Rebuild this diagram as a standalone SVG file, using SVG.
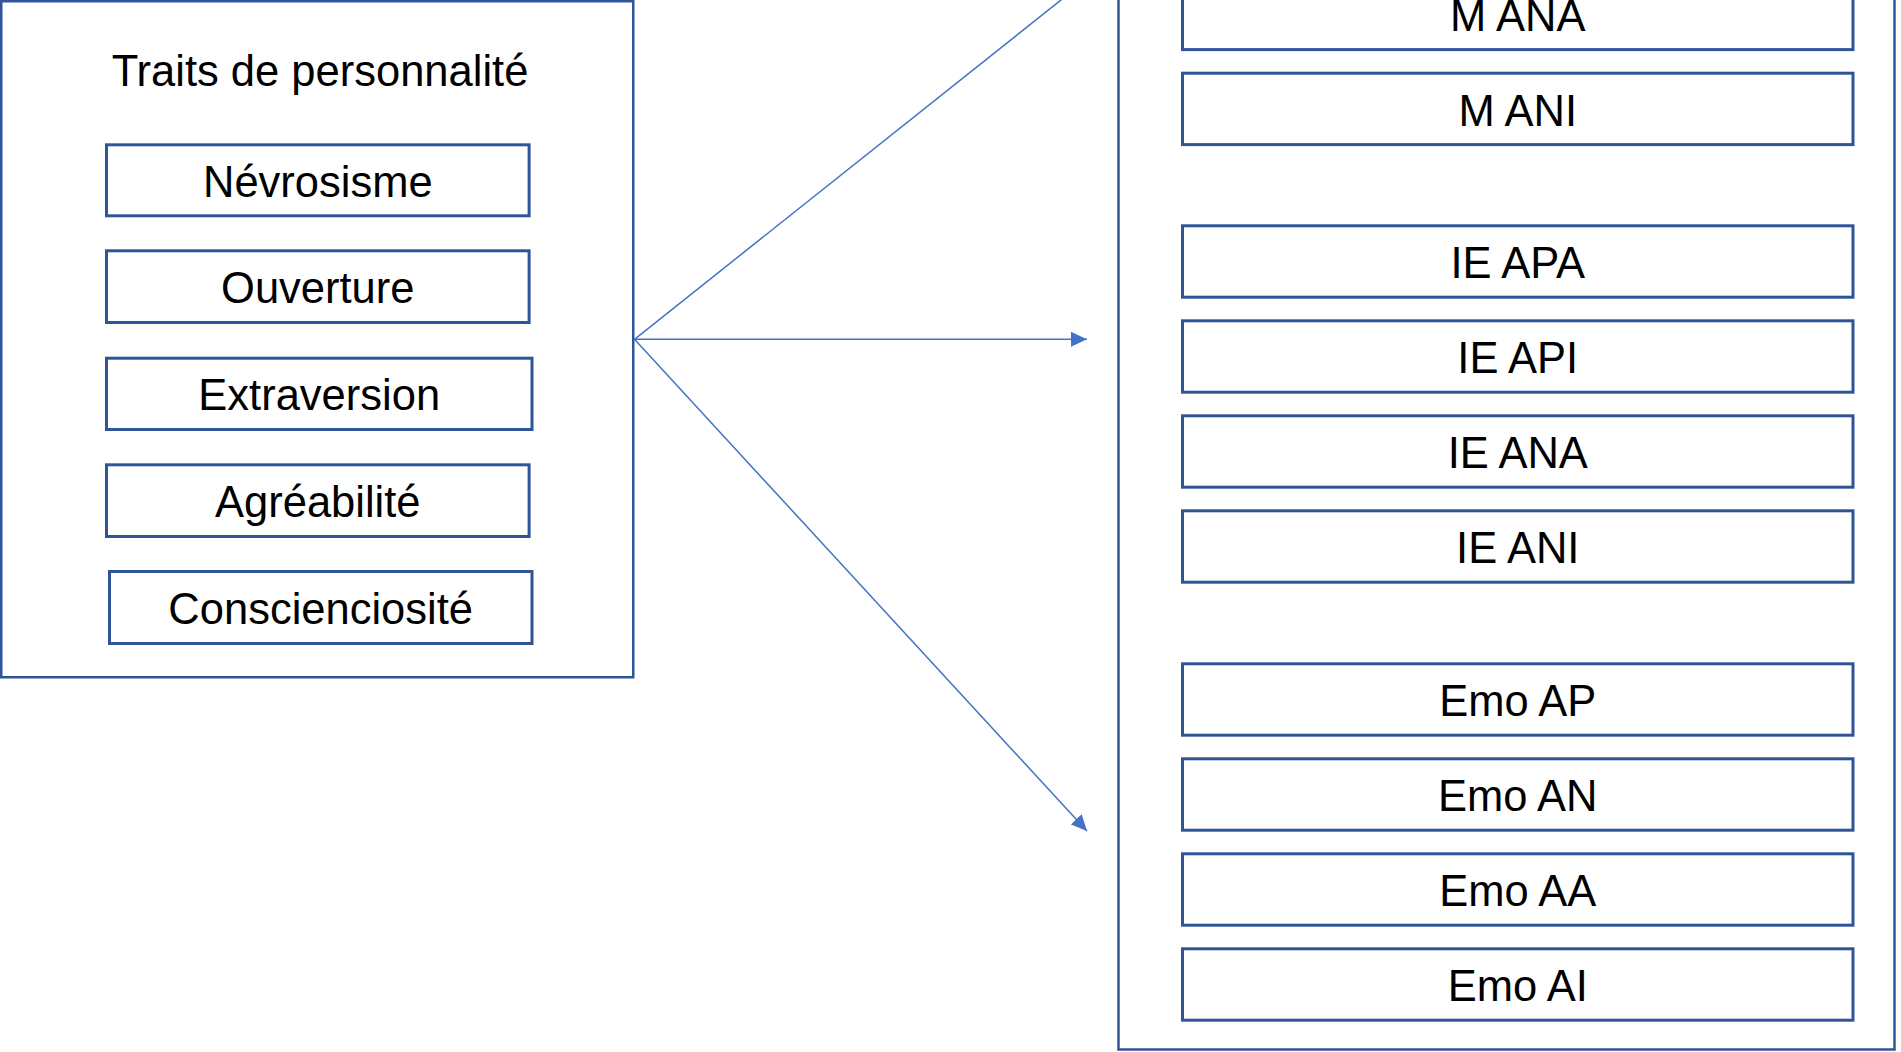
<svg xmlns="http://www.w3.org/2000/svg" width="1901" height="1052" viewBox="0 0 1901 1052">
<style>
.outer{fill:#fff;stroke:#2F5597;stroke-width:2.5}
.box{fill:#fff;stroke:#2F5597;stroke-width:3}
.lbl{font-family:"Liberation Sans",Arial,sans-serif;font-size:43.5px;fill:#000;text-anchor:middle}
.conn{stroke:#4472C4;stroke-width:1.5;fill:none}
</style>
<defs>
<marker id="arr" markerUnits="userSpaceOnUse" markerWidth="16" markerHeight="15" refX="16" refY="7.5" orient="auto" viewBox="0 0 16 15">
<path d="M0,0 L16,7.5 L0,15 z" fill="#4472C4"/>
</marker>
</defs>
<rect width="1901" height="1052" fill="#fff"/>
<g id="traits">
<rect class="outer" x="1.25" y="1.25" width="632" height="676"/>
<text class="lbl" x="320" y="86">Traits de personnalité</text>
</g>
<g id="nevrosisme"><rect class="box" x="106.5" y="144.8" width="422.6" height="71"/><text class="lbl" x="317.8" y="196.5">Névrosisme</text></g>
<g id="ouverture"><rect class="box" x="106.5" y="250.8" width="422.6" height="71.7"/><text class="lbl" x="317.8" y="303">Ouverture</text></g>
<g id="extraversion"><rect class="box" x="106.5" y="358.2" width="425.5" height="71.3"/><text class="lbl" x="319.2" y="410.3">Extraversion</text></g>
<g id="agreabilite"><rect class="box" x="106.5" y="464.8" width="422.6" height="71.7"/><text class="lbl" x="317.8" y="517">Agréabilité</text></g>
<g id="conscienciosite"><rect class="box" x="109.5" y="571.5" width="422.5" height="72"/><text class="lbl" x="320.7" y="624">Conscienciosité</text></g>
<g id="outcomes">
<rect class="outer" x="1118.5" y="-10" width="776" height="1059.5"/>
</g>
<g id="m-ana"><rect class="box" x="1182.5" y="-21.8" width="670.5" height="71.4"/><text class="lbl" x="1517.75" y="30.6">M ANA</text></g>
<g id="m-ani"><rect class="box" x="1182.5" y="73.2" width="670.5" height="71.4"/><text class="lbl" x="1517.75" y="125.6">M ANI</text></g>
<g id="ie-apa"><rect class="box" x="1182.5" y="225.8" width="670.5" height="71.4"/><text class="lbl" x="1517.75" y="278.2">IE APA</text></g>
<g id="ie-api"><rect class="box" x="1182.5" y="320.8" width="670.5" height="71.4"/><text class="lbl" x="1517.75" y="373.2">IE API</text></g>
<g id="ie-ana"><rect class="box" x="1182.5" y="415.8" width="670.5" height="71.4"/><text class="lbl" x="1517.75" y="468.2">IE ANA</text></g>
<g id="ie-ani"><rect class="box" x="1182.5" y="510.8" width="670.5" height="71.4"/><text class="lbl" x="1517.75" y="563.2">IE ANI</text></g>
<g id="emo-ap"><rect class="box" x="1182.5" y="663.8" width="670.5" height="71.4"/><text class="lbl" x="1517.75" y="716.2">Emo AP</text></g>
<g id="emo-an"><rect class="box" x="1182.5" y="758.8" width="670.5" height="71.4"/><text class="lbl" x="1517.75" y="811.2">Emo AN</text></g>
<g id="emo-aa"><rect class="box" x="1182.5" y="853.8" width="670.5" height="71.4"/><text class="lbl" x="1517.75" y="906.2">Emo AA</text></g>
<g id="emo-ai"><rect class="box" x="1182.5" y="948.8" width="670.5" height="71.4"/><text class="lbl" x="1517.75" y="1001.2">Emo AI</text></g>
<g id="connectors">
<line class="conn" x1="634.5" y1="339.3" x2="1087" y2="-20.7" marker-end="url(#arr)"/>
<line class="conn" x1="634.5" y1="339.3" x2="1087" y2="339.3" marker-end="url(#arr)"/>
<line class="conn" x1="634.5" y1="339.3" x2="1087" y2="831" marker-end="url(#arr)"/>
</g>
</svg>
